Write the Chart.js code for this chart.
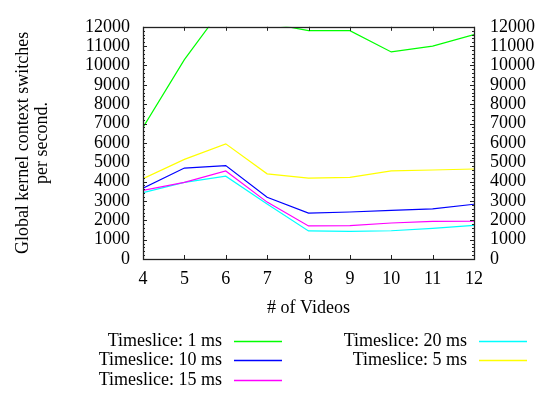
<!DOCTYPE html>
<html>
<head>
<meta charset="utf-8">
<script src="https://cdn.jsdelivr.net/npm/chart.js@4/dist/chart.umd.min.js"></script>
<style>
    html, body { margin: 0; padding: 0; background: #fff; }
    #wrap { width: 550px; height: 393px; }
</style>
</head>
<body>
<div id="wrap"><canvas id="ctxChart" width="550" height="393"></canvas></div>
<script>
var videos = [4, 5, 6, 7, 8, 9, 10, 11, 12];
var ts1 = [6800, 10300, 13200, 12200, 11800, 11800, 10700, 11000, 11600];
var ts10 = [3660, 4700, 4830, 3190, 2370, 2430, 2510, 2590, 2830];
var ts15 = [3550, 3960, 4550, 2940, 1710, 1720, 1860, 1940, 1950];
var ts20 = [3430, 3960, 4280, 2840, 1450, 1430, 1460, 1580, 1740];
var ts5 = [4150, 5150, 5950, 4400, 4180, 4220, 4550, 4600, 4650];
var yTicks = [0, 1000, 2000, 3000, 4000, 5000, 6000, 7000, 8000, 9000, 10000, 11000, 12000];

var serif = 'Liberation Serif';
var fontSize = 18;

function series(label, values, color) {
    return {
        label: label,
        data: values,
        borderColor: color,
        backgroundColor: color,
        borderWidth: 1.2,
        pointRadius: 0,
        tension: 0,
        fill: false
    };
}

function plainTick(v) {
    return String(v);
}

// gnuplot style frame with inward ticks on all four sides
var frameTicks = {
    id: 'frameTicks',
    afterDatasetsDraw: function (chart) {
        var ctx = chart.ctx;
        var a = chart.chartArea;
        var x = chart.scales.x;
        var y = chart.scales.y;
        ctx.save();
        ctx.strokeStyle = '#222';
        ctx.lineWidth = 1;
        ctx.beginPath();
        for (var v = 0; v <= 12000; v += 200) {
            var py = Math.round(y.getPixelForValue(v)) + 0.5;
            var len = v % 1000 === 0 ? 4 : 2;
            ctx.moveTo(a.left, py); ctx.lineTo(a.left + len, py);
            ctx.moveTo(a.right, py); ctx.lineTo(a.right - len, py);
        }
        videos.forEach(function (n) {
            var px = Math.round(x.getPixelForValue(n)) + 0.5;
            ctx.moveTo(px, a.bottom); ctx.lineTo(px, a.bottom - 4);
            ctx.moveTo(px, a.top); ctx.lineTo(px, a.top + 4);
        });
        ctx.stroke();
        ctx.lineWidth = 1.3;
        ctx.strokeRect(Math.round(a.left) + 0.5, Math.round(a.top) + 0.5,
            Math.round(a.right - a.left), Math.round(a.bottom - a.top));
        ctx.restore();
    }
};

// key in two columns, text right-aligned then line sample
var keyBox = {
    id: 'keyBox',
    afterDraw: function (chart) {
        var ctx = chart.ctx;
        var a = chart.chartArea;
        var sets = chart.data.datasets;
        var rows = 3;
        var colText = [222, 467];
        ctx.save();
        ctx.font = fontSize + 'px "' + serif + '"';
        ctx.textAlign = 'right';
        ctx.textBaseline = 'middle';
        sets.forEach(function (ds, i) {
            var col = Math.floor(i / rows);
            var row = i % rows;
            var ty = Math.round(a.bottom + 82 + row * 19.3);
            ctx.fillStyle = '#000';
            ctx.fillText(ds.label, colText[col], ty);
            ctx.beginPath();
            ctx.strokeStyle = ds.borderColor;
            ctx.lineWidth = 1.5;
            ctx.moveTo(colText[col] + 12, ty + 0.5);
            ctx.lineTo(colText[col] + 60, ty + 0.5);
            ctx.stroke();
        });
        ctx.restore();
    }
};

new Chart(document.getElementById('ctxChart'), {
    type: 'line',
    data: {
        labels: videos,
        datasets: [
            series('Timeslice: 1 ms', ts1, '#00ff00'),
            series('Timeslice: 10 ms', ts10, '#0000ff'),
            series('Timeslice: 15 ms', ts15, '#ff00ff'),
            series('Timeslice: 20 ms', ts20, '#00ffff'),
            series('Timeslice: 5 ms', ts5, '#ffff00')
        ]
    },
    plugins: [frameTicks, keyBox],
    options: {
        responsive: false,
        animation: false,
        layout: { padding: { top: 15, bottom: 73, left: 0, right: 0 } },
        plugins: {
            legend: { display: false },
            tooltip: { enabled: false }
        },
        scales: {
            x: {
                type: 'linear',
                min: 4,
                max: 12,
                afterBuildTicks: function (s) {
                    s.ticks = videos.map(function (v) { return { value: v }; });
                },
                afterFit: function (s) { s.height = 61; },
                grid: { display: false, drawTicks: false },
                border: { display: false },
                ticks: {
                    padding: 9,
                    autoSkip: false,
                    maxRotation: 0,
                    callback: plainTick,
                    color: '#000',
                    font: { family: serif, size: fontSize }
                },
                title: {
                    display: true,
                    text: '# of Videos',
                    color: '#000',
                    padding: { top: 0, bottom: 1 },
                    font: { family: serif, size: fontSize, lineHeight: 1.15 }
                }
            },
            y: {
                position: 'left',
                min: 0,
                max: 12000,
                afterBuildTicks: function (s) {
                    s.ticks = yTicks.map(function (v) { return { value: v }; });
                },
                afterFit: function (s) { s.width = 143; },
                grid: { display: false, drawTicks: false },
                border: { display: false },
                ticks: {
                    padding: 13,
                    autoSkip: false,
                    callback: plainTick,
                    color: '#000',
                    font: { family: serif, size: fontSize }
                },
                title: {
                    display: true,
                    text: ['Global kernel context switches', 'per second.'],
                    color: '#000',
                    padding: { top: 13, bottom: 0 },
                    font: { family: serif, size: fontSize, lineHeight: 1.1 }
                }
            },
            y2: {
                position: 'right',
                min: 0,
                max: 12000,
                afterBuildTicks: function (s) {
                    s.ticks = yTicks.map(function (v) { return { value: v }; });
                },
                afterFit: function (s) { s.width = 76; },
                grid: { display: false, drawTicks: false },
                border: { display: false },
                ticks: {
                    padding: 16,
                    autoSkip: false,
                    callback: plainTick,
                    color: '#000',
                    font: { family: serif, size: fontSize }
                }
            }
        }
    }
});
</script>
</body>
</html>
